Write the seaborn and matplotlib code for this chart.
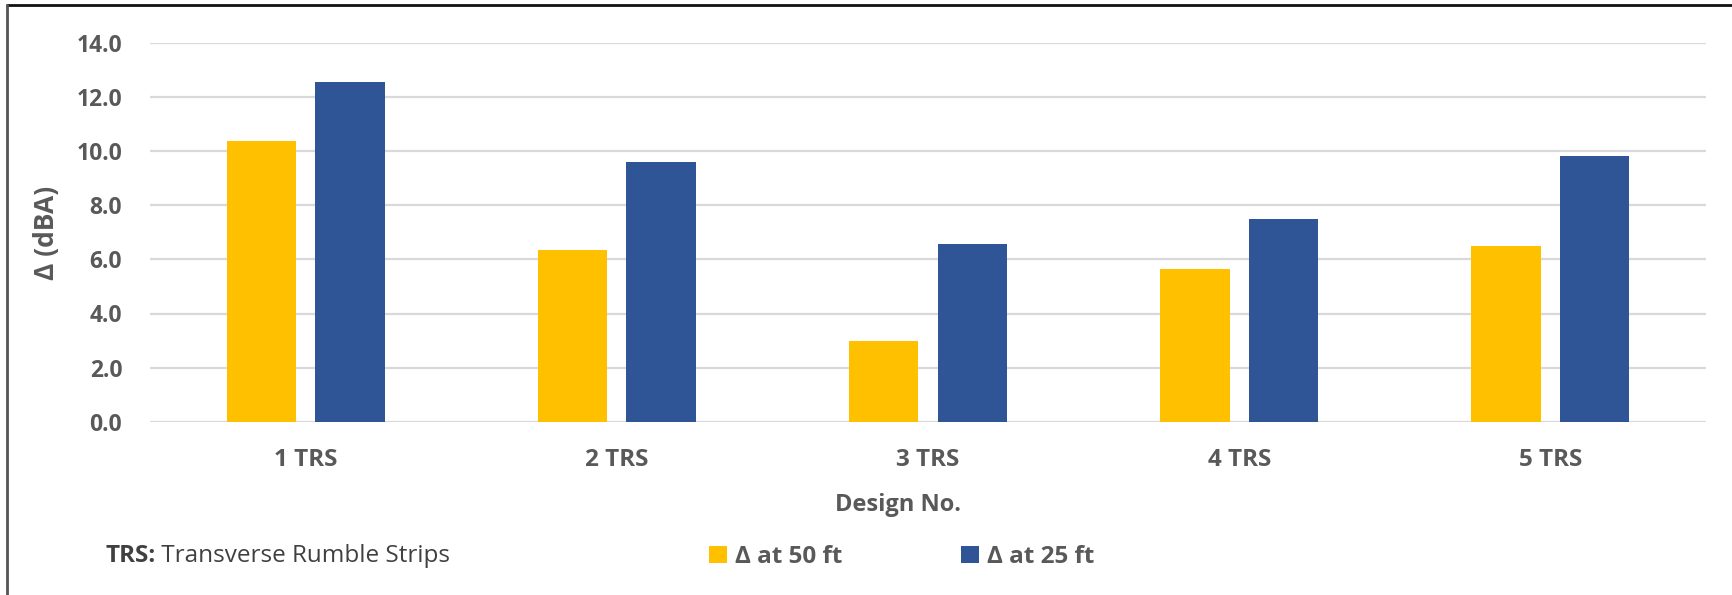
import matplotlib
matplotlib.use("Agg")
import matplotlib.pyplot as plt
from matplotlib.lines import Line2D
import pandas as pd
import seaborn as sns

# Noise reduction per design, two measuring distances
designs = ["1 TRS", "2 TRS", "3 TRS", "4 TRS", "5 TRS"]
delta_50ft = [10.37, 6.35, 3.0, 5.63, 6.50]
delta_25ft = [12.56, 9.60, 6.56, 7.48, 9.81]
series_names = ["\u0394 at 50 ft", "\u0394 at 25 ft"]
y_ticks = [0, 2, 4, 6, 8, 10, 12, 14]

df = pd.DataFrame({
    "design": designs * 2,
    "series": [series_names[0]] * len(designs) + [series_names[1]] * len(designs),
    "delta": delta_50ft + delta_25ft,
})

sns.set_theme(style="white")
plt.rcParams["font.family"] = ["Open Sans", "DejaVu Sans"]

TXT = "#595959"
palette = {series_names[0]: "#FFC000", series_names[1]: "#2F5597"}

W, H = 1732, 595
fig = plt.figure(figsize=(W / 100, H / 100), dpi=100)
ax = fig.add_axes([150 / W, 1 - 421.7 / H, 1556 / W, (421.7 - 43) / H])

sns.barplot(data=df, x="design", y="delta", hue="series", order=designs,
            hue_order=series_names, palette=palette, width=0.569, gap=0.215,
            saturation=1, ax=ax, legend=True, linewidth=0, zorder=3)

ax.set_ylim(0, 14)
ax.set_xlim(-0.5, len(designs) - 0.5)
ax.set_yticks(y_ticks)
ax.set_yticklabels([f"{v:.1f}" for v in y_ticks])
ax.yaxis.grid(True, color="#D9D9D9", linewidth=1.6, zorder=0)
ax.set_axisbelow(True)
for s in ax.spines.values():
    s.set_visible(False)
ax.tick_params(axis="both", length=0, labelcolor=TXT)
ax.tick_params(axis="y", pad=20, labelsize=16.5)
ax.tick_params(axis="x", pad=19, labelsize=17.5)
for lbl in ax.get_xticklabels() + ax.get_yticklabels():
    lbl.set_fontweight("bold")

ax.set_xlabel("Design No.", fontsize=17, fontweight="bold", color=TXT)
ax.xaxis.set_label_coords((898 - 150) / 1556, -(505 - 421.7) / (421.7 - 43))
ax.xaxis.label.set_va("center")
ax.set_ylabel("\u0394 (dBA)", fontsize=19, fontweight="bold", color=TXT)
ax.yaxis.set_label_coords(-(150 - 46) / 1556, (421.7 - 233) / (421.7 - 43))
ax.yaxis.label.set_va("center")

# Legend along the bottom
handles, labels = ax.get_legend_handles_labels()
ax.get_legend().remove()
leg = fig.legend(handles, labels, loc="center left",
                 bbox_to_anchor=(709 / W, 1 - 557 / H), ncol=2, frameon=False,
                 prop={"size": 17.5, "weight": "bold"}, handlelength=0.72,
                 handleheight=0.72, handletextpad=0.34, columnspacing=4.9,
                 borderpad=0, borderaxespad=0)
for t in leg.get_texts():
    t.set_color(TXT)

note = fig.text(105 / W, 1 - 556 / H, "TRS:", fontsize=17.5, fontweight="bold",
                color="#404040", va="center", ha="left")
ax.annotate(" Transverse Rumble Strips", xy=(1, 0.5), xycoords=note,
            va="center", ha="left", fontsize=17.5, color="#404040")

# Outer frame lines
fig.add_artist(Line2D([0.004, 1], [1 - 5 / H, 1 - 5 / H], color="#111111",
                      linewidth=2, transform=fig.transFigure))
fig.add_artist(Line2D([7 / W, 7 / W], [0, 1 - 5 / H], color="#555555",
                      linewidth=2, transform=fig.transFigure))

fig.savefig("out.png", dpi=100)
